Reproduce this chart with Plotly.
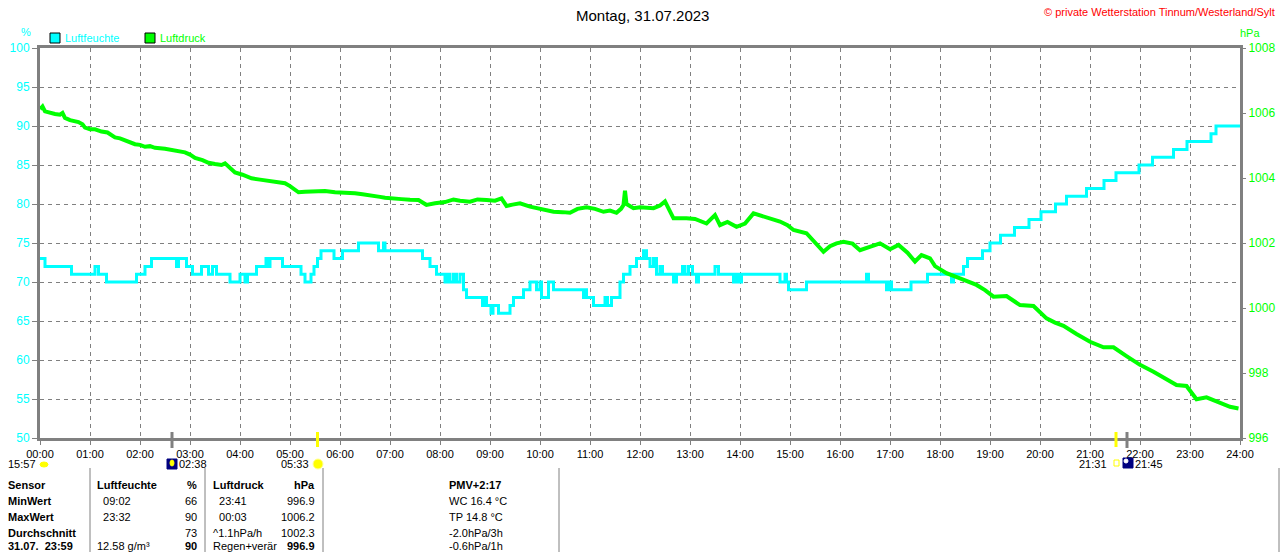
import plotly.graph_objects as go

# Luftfeuchte (%), Stufenwerte: Stunde des Wechsels, neuer Wert
feuchte_zeit = [0, 0.1, 0.63, 1.1, 1.17, 1.33, 1.93, 2.1, 2.23, 2.73, 2.77, 2.93,
                3.05, 3.23, 3.37, 3.45, 3.53, 3.8, 4.0, 4.1, 4.15, 4.33, 4.52, 4.57,
                4.6, 4.85, 5.22, 5.3, 5.42, 5.48, 5.55, 5.62, 5.88, 6.05, 6.37, 6.77,
                6.87, 6.9, 7.65, 7.8, 7.93, 8.1, 8.15, 8.2, 8.27, 8.33, 8.4, 8.47,
                8.53, 8.85, 8.88, 8.93, 9.02, 9.06, 9.17, 9.4, 9.47, 9.67, 9.8, 9.93,
                10.0, 10.03, 10.17, 10.27, 10.87, 10.9, 10.93, 11.07, 11.3, 11.35,
                11.43, 11.6, 11.67, 11.8, 11.93, 12.07, 12.13, 12.2, 12.27, 12.33,
                12.4, 12.45, 12.67, 12.73, 12.85, 12.9, 12.97, 13.05, 13.13, 13.17,
                13.5, 13.57, 13.87, 13.93, 13.97, 14.03, 14.8, 14.9, 14.93, 14.97,
                15.33, 16.53, 16.57, 16.93, 16.97, 17.03, 17.42, 17.75, 18.23, 18.27,
                18.47, 18.55, 18.85, 19.0, 19.21, 19.49, 19.78, 20.02, 20.31, 20.53,
                20.93, 21.28, 21.52, 21.98, 22.25, 22.67, 22.94, 23.42, 23.52, 24.0]
feuchte_wert = [73, 72, 71, 72, 71, 70, 71, 72, 73, 72, 73, 72,
                71, 72, 71, 72, 71, 70, 71, 70, 71, 72, 73, 72,
                73, 72, 71, 70, 71, 72, 73, 74, 73, 74, 75, 74,
                75, 74, 73, 72, 71, 70, 71, 70, 71, 70, 71, 69,
                68, 67, 68, 67, 66, 67, 66, 67, 68, 69, 70, 69,
                70, 68, 70, 69, 68, 69, 68, 67, 68, 67,
                68, 70, 71, 72, 73, 74, 73, 72, 73, 71,
                72, 71, 70, 71, 72, 71, 72, 71, 70, 71,
                72, 71, 70, 71, 70, 71, 70, 71, 70, 69,
                70, 71, 70, 69, 70, 69, 70, 71, 70, 71,
                72, 73, 74, 75, 76, 77, 78, 79, 80, 81,
                82, 83, 84, 85, 86, 87, 88, 89, 90, 90]

# Luftdruck (hPa)
druck_zeit = [0.0, 0.05, 0.1, 0.2, 0.3, 0.4, 0.45, 0.5, 0.6, 0.77, 0.85, 0.9, 1.0,
              1.1, 1.23, 1.35, 1.5, 1.6, 1.75, 1.9, 2.0, 2.1, 2.2, 2.3, 2.5, 2.7,
              2.9, 3.0, 3.1, 3.25, 3.37, 3.5, 3.63, 3.7, 3.8, 3.9, 4.05, 4.23, 4.4,
              4.57, 4.75, 4.9, 5.0, 5.1, 5.17, 5.3, 5.57, 5.7, 5.9, 6.1, 6.3, 6.45,
              6.57, 6.8, 6.9, 7.05, 7.23, 7.4, 7.57, 7.7, 7.73, 7.9, 8.0, 8.1, 8.27,
              8.4, 8.6, 8.75, 8.93, 9.1, 9.23, 9.33, 9.45, 9.6, 9.8, 9.93, 10.1,
              10.27, 10.45, 10.6, 10.75, 10.93, 11.1, 11.27, 11.4, 11.53, 11.62,
              11.67, 11.7, 11.73, 11.87, 12.0, 12.27, 12.4, 12.5, 12.6, 12.67, 12.93,
              13.1, 13.33, 13.45, 13.5, 13.6, 13.75, 13.93, 14.1, 14.27, 14.4, 14.53,
              14.8, 14.95, 15.07, 15.33, 15.5, 15.67, 15.8, 15.93, 16.07, 16.25,
              16.4, 16.6, 16.8, 17.0, 17.17, 17.35, 17.5, 17.63, 17.8, 17.9, 18.13,
              18.4, 18.73, 18.9, 19.07, 19.33, 19.6, 19.87, 20.13, 20.3, 20.47,
              20.73, 21.0, 21.27, 21.47, 21.73, 22.0, 22.27, 22.53, 22.73, 22.93,
              23.13, 23.33, 23.6, 23.8, 23.97]
druck_wert = [1006.12, 1006.2, 1006.05, 1006.0, 1005.97, 1005.95, 1006.0, 1005.85,
              1005.78, 1005.72, 1005.65, 1005.55, 1005.5, 1005.5, 1005.43, 1005.4,
              1005.25, 1005.22, 1005.12, 1005.04, 1005.02, 1004.96, 1004.98, 1004.93,
              1004.9, 1004.86, 1004.79, 1004.72, 1004.62, 1004.55, 1004.47, 1004.43,
              1004.4, 1004.45, 1004.3, 1004.17, 1004.1, 1003.99, 1003.95, 1003.91,
              1003.88, 1003.84, 1003.75, 1003.62, 1003.56, 1003.58, 1003.58, 1003.6,
              1003.56, 1003.55, 1003.53, 1003.5, 1003.48, 1003.42, 1003.39, 1003.36,
              1003.35, 1003.33, 1003.32, 1003.2, 1003.17, 1003.22, 1003.24, 1003.26,
              1003.34, 1003.3, 1003.27, 1003.34, 1003.32, 1003.3, 1003.37, 1003.14,
              1003.18, 1003.22, 1003.12, 1003.07, 1003.0, 1002.96, 1002.95, 1002.93,
              1003.05, 1003.1, 1003.05, 1002.96, 1003.0, 1002.93, 1003.05, 1003.17,
              1003.61, 1003.2, 1003.07, 1003.1, 1003.07, 1003.15, 1003.28, 1003.0,
              1002.76, 1002.76, 1002.74, 1002.6, 1002.8, 1002.86, 1002.55, 1002.65,
              1002.5, 1002.6, 1002.91, 1002.85, 1002.81, 1002.66, 1002.55, 1002.4,
              1002.3, 1002.0, 1001.73, 1001.9, 1001.99, 1002.04, 1001.98, 1001.78,
              1001.89, 1001.99, 1001.81, 1001.94, 1001.7, 1001.43, 1001.63, 1001.53,
              1001.29, 1001.07, 1000.91, 1000.71, 1000.55, 1000.35, 1000.37, 1000.09,
              1000.06, 999.68, 999.55, 999.45, 999.2, 998.96, 998.79, 998.79, 998.52,
              998.25, 998.04, 997.81, 997.63, 997.6, 997.19, 997.25, 997.07, 996.96,
              996.91]

stunden = list(range(0, 25))
stunden_text = ["%02d:00" % h for h in stunden]

# Tabelle unter dem Diagramm
zeilen_kopf = ["<b>Sensor</b>", "<b>MinWert</b>", "<b>MaxWert</b>", "<b>Durchschnitt</b>",
               "<b>31.07.  23:59</b>"]
feuchte_info = ["<b>Luftfeuchte</b>", "  09:02", "  23:32", "", "12.58 g/m³"]
feuchte_zahl = ["<b>%</b>", "66", "90", "73", "<b>90</b>"]
druck_info = ["<b>Luftdruck</b>", "  23:41", "  00:03", "^1.1hPa/h", "Regen+verär"]
druck_zahl = ["<b>hPa</b>", "996.9", "1006.2", "1002.3", "<b>996.9</b>"]
extra_info = ["<b>PMV+2:17</b>", "WC 16.4 °C", "TP 14.8 °C", "-2.0hPa/3h", "-0.6hPa/1h"]

FONT = "Liberation Sans, Arial, sans-serif"
GRAU = "#808080"
CYAN = "#00FFFF"
GRUEN = "#00FF00"


def px_x(px):
    return (px - 40) / 1200.0


def px_y(py):
    return (438 - py) / 390.0


fig = go.Figure()
fig.add_trace(go.Scatter(x=feuchte_zeit, y=feuchte_wert, mode="lines",
                         name="Luftfeuchte",
                         line=dict(color=CYAN, width=3, shape="hv")))
fig.add_trace(go.Scatter(x=druck_zeit, y=druck_wert, mode="lines",
                         name="Luftdruck", yaxis="y2",
                         line=dict(color=GRUEN, width=4)))

ann = []


def text(px, py, s, color="black", size=11, anchor="left"):
    ann.append(dict(x=px_x(px), y=px_y(py), xref="paper", yref="paper", text=s,
                    showarrow=False, xanchor=anchor, yanchor="middle",
                    font=dict(family=FONT, size=size, color=color)))


text(642, 15, "Montag, 31.07.2023", size=15, anchor="center")
text(1277, 12, "© private Wetterstation Tinnum/Westerland/Sylt", color="#FF0000",
     size=11, anchor="right")
text(26, 32, "%", color=CYAN, anchor="center")
text(1250, 33, "hPa", color=GRUEN, anchor="center")
text(63, 38, "Luftfeuchte", color=CYAN)
text(158, 38, "Luftdruck", color=GRUEN)

# Sonne / Mond Zeiten
text(38, 464, "15:57", anchor="right")
text(177, 464, "02:38")
text(311, 464, "05:33", anchor="right")
text(1109, 464, "21:31", anchor="right")
text(1133, 464, "21:45")

rows_y = [485, 501, 517, 533, 546]
for i, y in enumerate(rows_y):
    text(6, y, zeilen_kopf[i])
    text(95, y, feuchte_info[i])
    text(199, y, feuchte_zahl[i], anchor="right")
    text(211, y, druck_info[i])
    text(317, y, druck_zahl[i], anchor="right")
    text(447, y, extra_info[i])

shapes = []


def rect(x0, y0, x1, y1, fill, line="black", lw=1):
    shapes.append(dict(type="rect", xref="paper", yref="paper",
                       x0=px_x(x0), x1=px_x(x1), y0=px_y(y0), y1=px_y(y1),
                       fillcolor=fill, line=dict(color=line, width=lw)))


def vline(px, y0, y1, color, width):
    shapes.append(dict(type="line", xref="paper", yref="paper",
                       x0=px_x(px), x1=px_x(px), y0=px_y(y0), y1=px_y(y1),
                       line=dict(color=color, width=width)))


rect(50, 33, 60, 43, CYAN)
rect(145, 33, 155, 43, GRUEN)

# Markierungen Sonnen-/Mondaufgang an der Zeitachse
vline(317.5, 432, 447, "#FFFF00", 3)
vline(1116, 432, 447, "#FFFF00", 3)
vline(172, 432, 448, GRAU, 3)
vline(1127, 432, 448, GRAU, 3)

# kleine Symbole
shapes.append(dict(type="circle", xref="paper", yref="paper",
                   x0=px_x(40), x1=px_x(48), y0=px_y(462), y1=px_y(467),
                   fillcolor="#FFFF00", line=dict(color="#FFFF00", width=1)))
rect(167, 459, 177, 469, "#000080", line="#000080")
shapes.append(dict(type="circle", xref="paper", yref="paper",
                   x0=px_x(170), x1=px_x(174), y0=px_y(460), y1=px_y(466),
                   fillcolor="#FFFF00", line=dict(color="#FFFF00", width=1)))
shapes.append(dict(type="circle", xref="paper", yref="paper",
                   x0=px_x(313), x1=px_x(323), y0=px_y(459), y1=px_y(469),
                   fillcolor="#FFFF00", line=dict(color="#FFFF99", width=1)))
rect(1114, 460, 1119, 466, "white", line="#FFFF00")
rect(1123, 458, 1133, 468, "#000080", line="#000080")
shapes.append(dict(type="circle", xref="paper", yref="paper",
                   x0=px_x(1124), x1=px_x(1128), y0=px_y(459), y1=px_y(463),
                   fillcolor="white", line=dict(color="white", width=1)))

# Trennlinien der Tabelle
for xl in [90, 205, 323, 559, 1279]:
    vline(xl, 468, 552, GRAU, 1)

fig.update_layout(
    width=1280, height=552,
    margin=dict(l=40, r=40, t=48, b=114, pad=0, autoexpand=False),
    paper_bgcolor="white", plot_bgcolor="white",
    showlegend=False,
    font=dict(family=FONT, size=11, color="black"),
    xaxis=dict(range=[0, 24], tickvals=stunden, ticktext=stunden_text,
               showgrid=True, gridcolor=GRAU, gridwidth=1, griddash="4px,4px",
               showline=True, linecolor=GRAU, linewidth=3, mirror=True,
               ticks="outside", ticklen=4, tickcolor=GRAU, zeroline=False,
               automargin=False,
               tickfont=dict(family=FONT, size=11, color="black")),
    yaxis=dict(range=[50, 100], dtick=5, showgrid=True, gridcolor=GRAU,
               gridwidth=1, griddash="4px,4px", showline=True, linecolor=GRAU,
               linewidth=3, mirror=True, ticks="outside", ticklen=5,
               tickcolor=GRAU, zeroline=False, automargin=False,
               tickfont=dict(family=FONT, size=12, color=CYAN)),
    yaxis2=dict(range=[996, 1008], dtick=2, overlaying="y", side="right",
                showgrid=False, showline=False, ticks="outside", ticklen=5,
                tickcolor=GRAU, zeroline=False, automargin=False,
                tickfont=dict(family=FONT, size=12, color=GRUEN)),
    annotations=ann,
    shapes=shapes,
)

# Seitenrand des Browsers entfernen, damit das Bild bei (0,0) beginnt
fig.write_html("out.html", config={"displayModeBar": False},
               post_script="document.body.style.margin='0px';"
                           "document.body.style.overflow='hidden';")
